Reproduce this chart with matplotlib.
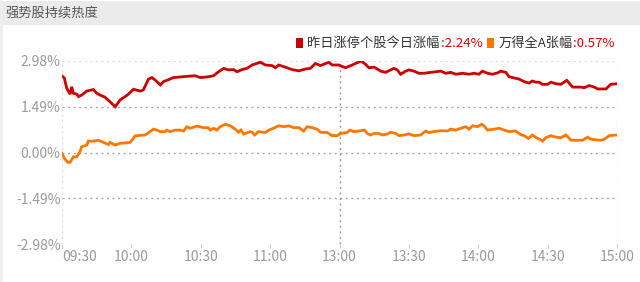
import matplotlib
matplotlib.use("Agg")
import matplotlib.pyplot as plt
from matplotlib.patches import Rectangle

plt.rcParams['font.family'] = ['Noto Sans CJK SC', 'DejaVu Sans']

title = "强势股持续热度"
series_names = ["昨日涨停个股今日涨幅", "万得全A张幅"]
last_values = ["2.24%", "0.57%"]

# trading minutes since 09:30 (0..240, lunch break removed)
red_t = [0, 1, 2, 3.5, 4.2, 4.9, 6.4, 7.1, 8.5, 10.7, 13.6, 15, 16.5, 18.6, 20.8, 23, 25.1,
         27.3, 28.7, 30.9, 33.8, 35.2, 37.4, 38.9, 40.3, 42.5, 43.9, 46, 48.2, 51.1, 54,
         57.6, 59.8, 62.7, 65.5, 67.7, 69.9, 72, 74.2, 75.7, 77.8, 80, 82.2, 85.8, 87.9,
         90.8, 92.3, 93.7, 96.6, 99.5, 102.4, 105.3, 107.4, 109.6, 111.8, 115.4, 116.8,
         119.7, 121.2, 122.6, 125.5, 126.9, 129.4, 131.3, 132.7, 134.9, 136.3, 137.8,
         139.9, 142.1, 143.5, 145, 146.4, 148.6, 150, 152.2, 154.4, 156.5, 159.4, 163.8,
         165.9, 168.1, 170.3, 173.2, 176, 178.2, 180.3, 181.8, 184, 186.1, 188.3, 189.7,
         191.9, 193.3, 195.5, 197.7, 199.8, 202, 203.4, 204.9, 206.3, 207.8, 210, 211.4,
         213.6, 215.7, 218.3, 220, 220.8, 224.4, 225.8, 228, 230.2, 231.6, 235.2, 237.3, 240]
red_v = [2.49, 2.43, 2.1, 1.9, 2.14, 1.93, 1.9, 1.82, 1.87, 2.0, 2.05, 1.93, 1.87, 1.8, 1.65,
         1.49, 1.71, 1.82, 1.9, 2.06, 2.0, 2.04, 2.39, 2.44, 2.36, 2.2, 2.31, 2.37, 2.44, 2.46,
         2.48, 2.5, 2.44, 2.46, 2.5, 2.63, 2.74, 2.69, 2.7, 2.63, 2.7, 2.74, 2.85, 2.94, 2.85,
         2.83, 2.76, 2.85, 2.78, 2.7, 2.66, 2.72, 2.74, 2.9, 2.83, 2.94, 2.85, 2.85, 2.8, 2.76,
         2.85, 2.9, 2.98, 2.87, 2.76, 2.78, 2.72, 2.65, 2.61, 2.69, 2.74, 2.69, 2.55, 2.65,
         2.69, 2.65, 2.58, 2.58, 2.61, 2.65, 2.58, 2.61, 2.55, 2.58, 2.55, 2.58, 2.55, 2.65,
         2.58, 2.55, 2.59, 2.65, 2.61, 2.47, 2.43, 2.39, 2.31, 2.26, 2.33, 2.29, 2.29, 2.22,
         2.22, 2.29, 2.24, 2.22, 2.35, 2.2, 2.13, 2.13, 2.11, 2.18, 2.13, 2.07, 2.07, 2.22, 2.24]

org_t = [0, 1, 2.5, 3.5, 4.9, 6.4, 7.8, 8.5, 10.7, 11.4, 13.6, 15.7, 17.9, 20.1, 20.8, 23,
         25.1, 27.3, 29.5, 31.6, 33.8, 36, 38.1, 39.5, 41, 42.5, 44.6, 45.3, 46.8, 49, 51.1,
         52.6, 54, 55.4, 58.3, 61.2, 63.3, 64.1, 65.5, 67, 68.4, 70.6, 72.8, 74.9, 76.4, 77.4,
         78.5, 80, 81.4, 82.2, 83.3, 85, 87.9, 89.4, 91.5, 93.7, 95.9, 98, 100.2, 102.4, 104.5,
         106, 108.2, 110.3, 111.8, 114.7, 116.8, 119, 120.4, 123.3, 124.5, 126.2, 128.4,
         130.8, 132, 133.4, 134.9, 137, 138.5, 140.7, 142.1, 144.3, 145.7, 147.9, 150, 152.2,
         155.1, 157.3, 158.7, 160.8, 163.8, 166.7, 168.1, 170.3, 173.2, 174.6, 176, 177.5,
         179.7, 181.5, 182.5, 184, 186.9, 189.1, 191.2, 193.3, 196.2, 198.4, 199.8, 201.7,
         203.4, 204.9, 206.3, 207.8, 209.2, 211.4, 213.6, 215.7, 217.9, 218.9, 220, 225.1,
         227.3, 228.7, 233.1, 234.5, 236.7, 240]
org_v = [-0.03, -0.19, -0.32, -0.32, -0.14, -0.14, 0.03, 0.19, 0.24, 0.37, 0.37, 0.4, 0.33,
         0.26, 0.33, 0.24, 0.3, 0.31, 0.33, 0.54, 0.56, 0.57, 0.68, 0.76, 0.73, 0.68, 0.68,
         0.73, 0.68, 0.73, 0.73, 0.7, 0.84, 0.79, 0.86, 0.81, 0.81, 0.73, 0.79, 0.73, 0.84,
         0.92, 0.87, 0.76, 0.66, 0.73, 0.6, 0.64, 0.68, 0.66, 0.57, 0.68, 0.65, 0.73, 0.79,
         0.87, 0.84, 0.87, 0.81, 0.81, 0.7, 0.84, 0.81, 0.76, 0.66, 0.65, 0.55, 0.55, 0.62,
         0.65, 0.73, 0.68, 0.7, 0.73, 0.62, 0.57, 0.62, 0.62, 0.57, 0.6, 0.66, 0.62, 0.55,
         0.57, 0.61, 0.55, 0.57, 0.7, 0.65, 0.68, 0.71, 0.7, 0.76, 0.73, 0.81, 0.84, 0.76,
         0.87, 0.84, 0.92, 0.87, 0.73, 0.76, 0.79, 0.73, 0.68, 0.7, 0.58, 0.55, 0.46, 0.57,
         0.49, 0.44, 0.37, 0.48, 0.55, 0.5, 0.48, 0.57, 0.5, 0.4, 0.4, 0.5, 0.43, 0.4, 0.43,
         0.55, 0.57]

x_ticks = [0, 30, 60, 90, 120, 150, 180, 210, 240]
x_labels = ["09:30", "10:00", "10:30", "11:00", "13:00", "13:30", "14:00", "14:30", "15:00"]
y_ticks = [-2.98, -1.49, 0.0, 1.49, 2.98]
y_labels = ["-2.98%", "-1.49%", "0.00%", "1.49%", "2.98%"]

RED = "#cc0000"
ORANGE = "#ff7700"
W, H = 640, 282
fig = plt.figure(figsize=(6.4, 2.82), dpi=100)
fig.patch.set_facecolor("white")

# title bar
fig.add_artist(Rectangle((2 / W, 1 - 25 / H), 1, 24 / H, transform=fig.transFigure,
                         facecolor="#ebebeb", edgecolor="none"))
fig.add_artist(Rectangle((0, 0), 3 / W, 1, transform=fig.transFigure,
                         facecolor="#eeeeee", edgecolor="none"))
fig.text(5 / W, 1 - 13 / H, title, fontsize=9.5, color="#555555", va="center", ha="left")

ax = fig.add_axes([62 / W, 1 - 244 / H, (617 - 62) / W, (244 - 61) / H])
ax.plot(org_t, org_v, color=ORANGE, lw=2, solid_joinstyle="miter", zorder=3)
ax.plot(red_t, red_v, color=RED, lw=2, solid_joinstyle="miter", zorder=4)

ax.set_xlim(0, 240)
ax.set_ylim(-2.98, 2.98)
for s in ax.spines.values():
    s.set_visible(False)
for yv in y_ticks:
    c = "#dddddd" if abs(yv) > 2 else "#aaaaaa"
    ax.axhline(yv, color=c, lw=1, ls=(0, (1.5, 2.5)), zorder=1)
ax.axvline(0, color="#dddddd", lw=1, ls=(0, (1.5, 2.5)), zorder=1)
ax.axvline(240, color="#dddddd", lw=1, ls=(0, (1.5, 2.5)), zorder=1)
ax.axvline(120, color="#999999", lw=1, ls=(0, (1.5, 2.5)), zorder=1)

ax.set_xticks(x_ticks)
ax.set_xticklabels(x_labels)
ax.set_yticks(y_ticks)
ax.set_yticklabels(y_labels)
ax.tick_params(axis="x", length=3, color="#cccccc", labelsize=10, labelcolor="#999aa3", pad=1)
ax.tick_params(axis="y", length=0, labelsize=10, labelcolor="#999aa3", pad=1)
ax.get_xticklabels()[0].set_ha("left")

# legend
fig.canvas.draw()
r = fig.canvas.get_renderer()
ly = 1 - 43 / H
x = 296
items = [(RED, series_names[0], last_values[0]), (ORANGE, series_names[1], last_values[1])]
for i, (col, name, val) in enumerate(items):
    fig.add_artist(Rectangle((x / W, 1 - 48 / H), 7 / W, 10 / H, transform=fig.transFigure,
                             facecolor=col, edgecolor="none"))
    x += 11
    t = fig.text(x / W, ly, name, fontsize=9.5, color="#333333", va="center", ha="left")
    x = t.get_window_extent(r).x1 + 1
    t = fig.text(x / W, ly, ":" + val, fontsize=9.5, color="#dd0000", va="center", ha="left")
    x = t.get_window_extent(r).x1 + 5

fig.savefig("out.png", dpi=100, facecolor="white")
